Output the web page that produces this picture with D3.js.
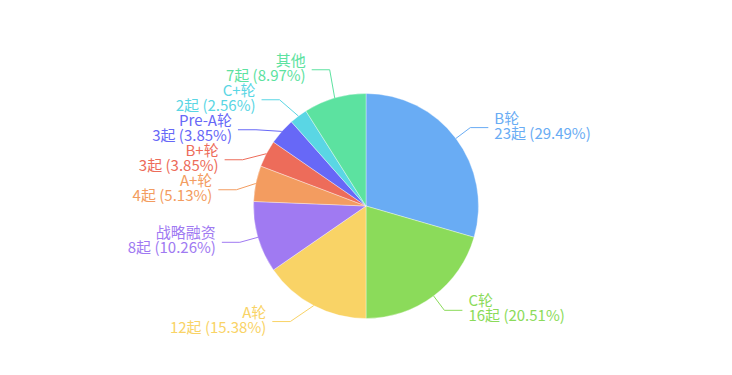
<!DOCTYPE html>
<html>
<head>
<meta charset="utf-8">
<script src="https://cdn.jsdelivr.net/npm/d3@7"></script>
<style>
  html, body { margin: 0; padding: 0; background: #fff; }
  #chart { width: 732px; height: 375px; }
  .slice-label { font-family: "Microsoft YaHei", "Noto Sans CJK SC", sans-serif; font-size: 15px; }
</style>
</head>
<body>
<div id="chart"></div>
<script>
// rounds of financing and how many deals each
const categories = ["B轮", "C轮", "A轮", "战略融资", "A+轮", "B+轮", "Pre-A轮", "C+轮", "其他"];
const counts = [23, 16, 12, 8, 4, 3, 3, 2, 7];
const colors = ["#69acf4", "#8bdb5a", "#f9d366", "#a07af2", "#f39c60", "#ed6c5a", "#6768f7", "#5ad6e4", "#5ce2a0"];
const unit = "起";

const width = 732, height = 375;
const cx = 366, cy = 206, radius = 112.5;
const len = 18, len2 = 18, gap = 6, labelH = 30;

const total = d3.sum(counts);
const data = categories.map((name, i) => ({ name, value: counts[i], color: colors[i] }));

const svg = d3.select("#chart").append("svg")
    .attr("width", width)
    .attr("height", height);

const g = svg.append("g").attr("transform", `translate(${cx},${cy})`);

const pie = d3.pie().value(d => d.value).sort(null);
const arc = d3.arc().innerRadius(0).outerRadius(radius);
const arcs = pie(data);

g.selectAll("path.slice")
    .data(arcs)
    .enter().append("path")
    .attr("class", "slice")
    .attr("d", arc)
    .attr("fill", d => d.data.color)
    .attr("stroke", "rgba(255,255,255,0.6)")
    .attr("stroke-width", 0.6);

// label layout, roughly like echarts: radial point, push overlaps apart, then re-fit x on an ellipse
const items = arcs.map(a => {
    const mid = (a.startAngle + a.endAngle) / 2;
    const sx = Math.sin(mid), sy = -Math.cos(mid);
    return {
        a, mid,
        dir: sx < 0 ? -1 : 1,
        x1: sx * radius, y1: sy * radius,
        x2: sx * (radius + len), y2: sy * (radius + len),
        y: sy * (radius + len)
    };
});

[-1, 1].forEach(side => {
    const list = items.filter(d => d.dir === side).sort((p, q) => p.y - q.y);
    if (list.length < 2) return;
    let last = -Infinity, totalShift = 0;
    const shifted = [];
    list.forEach(d => {
        const delta = d.y - (last + labelH);
        if (delta < 0) { d.y -= delta; totalShift -= delta; shifted.push(d); }
        last = d.y;
    });
    if (totalShift <= 0) return;
    const back = totalShift / list.length;
    // move the pushed cluster back up a bit
    const clusterStart = list.indexOf(shifted[0]) - 1;
    list.forEach((d, i) => {
        if (i === clusterStart || shifted.includes(d)) d.y -= back;
    });
    // recompute x on an ellipse through the farthest label
    let far = list[0];
    list.forEach(d => { if (Math.abs(d.y) > Math.abs(far.y)) far = d; });
    const rA = radius + len;
    const dx0 = far.x2;
    const rB = Math.abs(dx0) < rA ? Math.abs(far.y) / Math.sqrt(1 - dx0 * dx0 / (rA * rA)) : rA;
    list.forEach(d => {
        const dy = Math.abs(d.y);
        d.x2 = side * Math.sqrt(Math.max(0, 1 - dy * dy / (rB * rB))) * rA;
    });
});

items.forEach(d => { d.y2 = d.y; d.x3 = d.x2 + d.dir * len2; });

const labels = g.selectAll("g.label")
    .data(items)
    .enter().append("g")
    .attr("class", "label");

labels.append("polyline")
    .attr("points", d => [[d.x1, d.y1], [d.x2, d.y2], [d.x3, d.y2]].map(p => p.join(",")).join(" "))
    .attr("fill", "none")
    .attr("stroke", d => d.a.data.color)
    .attr("stroke-width", 1);

const txt = labels.append("text")
    .attr("class", "slice-label")
    .attr("fill", d => d.a.data.color)
    .attr("text-anchor", d => d.dir < 0 ? "end" : "start");

txt.append("tspan")
    .attr("x", d => d.x3 + d.dir * gap)
    .attr("y", d => d.y2 - 4)
    .text(d => d.a.data.name);

txt.append("tspan")
    .attr("x", d => d.x3 + d.dir * gap)
    .attr("y", d => d.y2 + 11)
    .text(d => `${d.a.data.value}${unit} (${(d.a.data.value / total * 100).toFixed(2)}%)`);
</script>
</body>
</html>
